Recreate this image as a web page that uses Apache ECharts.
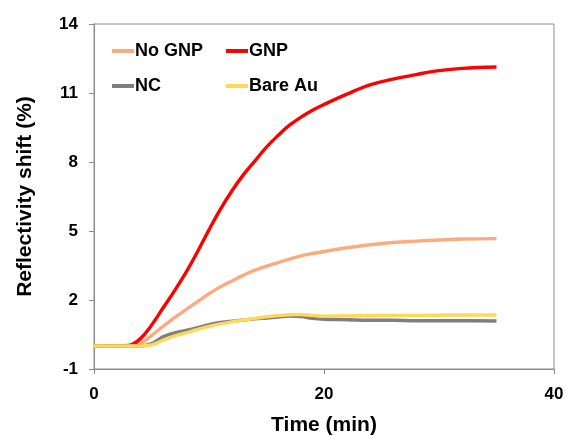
<!DOCTYPE html>
<html lang="en">
<head>
    <meta charset="UTF-8">
    <title>Reflectivity shift</title>
    <script src="https://cdn.jsdelivr.net/npm/echarts@6/dist/echarts.min.js"></script>
    <style>
        html, body { margin: 0; padding: 0; background: #ffffff; }
        #chart { width: 566px; height: 436px; }
    </style>
</head>
<body>
<div id="chart"></div>
<script>
    // 时间 (min)
    var times = [0, 1, 2, 3, 4, 5, 6, 7, 8, 9, 10, 11, 12, 13, 14, 15, 16, 17, 18, 19, 20, 22, 24, 26, 28, 30, 32, 35];
    // 各曲线数值 (%)
    var noGnp = [0, 0, 0, 0, 0.1, 0.45, 0.85, 1.23, 1.58, 1.93, 2.27, 2.57, 2.83, 3.08, 3.3, 3.47, 3.63, 3.78, 3.92, 4.02, 4.11, 4.27, 4.4, 4.5, 4.56, 4.61, 4.65, 4.67];
    var gnp = [0, 0, 0, 0.02, 0.3, 0.9, 1.65, 2.4, 3.2, 4.1, 5.05, 5.95, 6.75, 7.45, 8.05, 8.65, 9.15, 9.6, 9.95, 10.25, 10.5, 10.95, 11.35, 11.6, 11.8, 11.97, 12.07, 12.13];
    var nc = [0, 0, 0, 0, 0, 0.1, 0.4, 0.57, 0.68, 0.8, 0.93, 1.02, 1.08, 1.13, 1.18, 1.22, 1.26, 1.3, 1.28, 1.2, 1.16, 1.14, 1.12, 1.12, 1.1, 1.1, 1.1, 1.09];
    var bareAu = [0, 0, 0, 0, 0, 0.05, 0.25, 0.43, 0.57, 0.72, 0.85, 0.96, 1.05, 1.13, 1.2, 1.27, 1.32, 1.36, 1.37, 1.33, 1.3, 1.31, 1.32, 1.33, 1.33, 1.34, 1.35, 1.35];

    var font = 'Liberation Sans, Arial, sans-serif';
    var axisGrey = '#8c8c8c';

    function pairs(vals) {
        return times.map(function (t, i) { return [t, vals[i]]; });
    }

    function lineSeries(name, vals, color) {
        return {
            name: name,
            type: 'line',
            data: pairs(vals),
            smooth: 0.4,
            showSymbol: false,
            lineStyle: { color: color, width: 3.4 },
            itemStyle: { color: color }
        };
    }

    var legendBase = {
        orient: 'vertical',
        icon: 'rect',
        padding: 0,
        itemWidth: 22,
        itemHeight: 4,
        itemGap: 17,
        top: 42,
        textStyle: { fontFamily: font, fontWeight: 'bold', fontSize: 18, color: '#000', lineHeight: 18, padding: [0, 0, 0, -4] }
    };

    var myChart = echarts.init(document.getElementById('chart'));
    myChart.setOption({
        animation: false,
        backgroundColor: '#ffffff',
        grid: {
            left: 94, right: 12, top: 24, bottom: 67,
            outerBoundsMode: 'none',
            show: true, borderColor: axisGrey, borderWidth: 1
        },
        legend: [
            Object.assign({}, legendBase, { left: 112, data: ['No GNP', 'NC'] }),
            Object.assign({}, legendBase, { left: 226, data: ['GNP', 'Bare Au'] })
        ],
        xAxis: {
            type: 'value',
            min: 0, max: 40, interval: 20,
            name: 'Time (min)',
            nameLocation: 'middle',
            nameGap: 46,
            nameTextStyle: { fontFamily: font, fontWeight: 'bold', fontSize: 21, color: '#000' },
            axisLine: { show: true, onZero: false, lineStyle: { color: axisGrey } },
            axisTick: { show: true, length: 5, lineStyle: { color: axisGrey } },
            axisLabel: { fontFamily: font, fontWeight: 'bold', fontSize: 17, color: '#000', margin: 17 },
            splitLine: { show: false }
        },
        yAxis: {
            type: 'value',
            min: -1, max: 14, interval: 3,
            name: 'Reflectivity shift (%)',
            nameLocation: 'middle',
            nameGap: 58,
            nameTextStyle: { fontFamily: font, fontWeight: 'bold', fontSize: 21, color: '#000' },
            axisLine: { show: true, onZero: false, lineStyle: { color: axisGrey } },
            axisTick: { show: true, length: 5, lineStyle: { color: axisGrey } },
            axisLabel: { fontFamily: font, fontWeight: 'bold', fontSize: 17, color: '#000', margin: 16 },
            splitLine: { show: false }
        },
        series: [
            lineSeries('No GNP', noGnp, '#fbab80'),
            lineSeries('GNP', gnp, '#ff0000'),
            lineSeries('NC', nc, '#7f7f7f'),
            lineSeries('Bare Au', bareAu, '#ffd85a')
        ]
    });
</script>
</body>
</html>
